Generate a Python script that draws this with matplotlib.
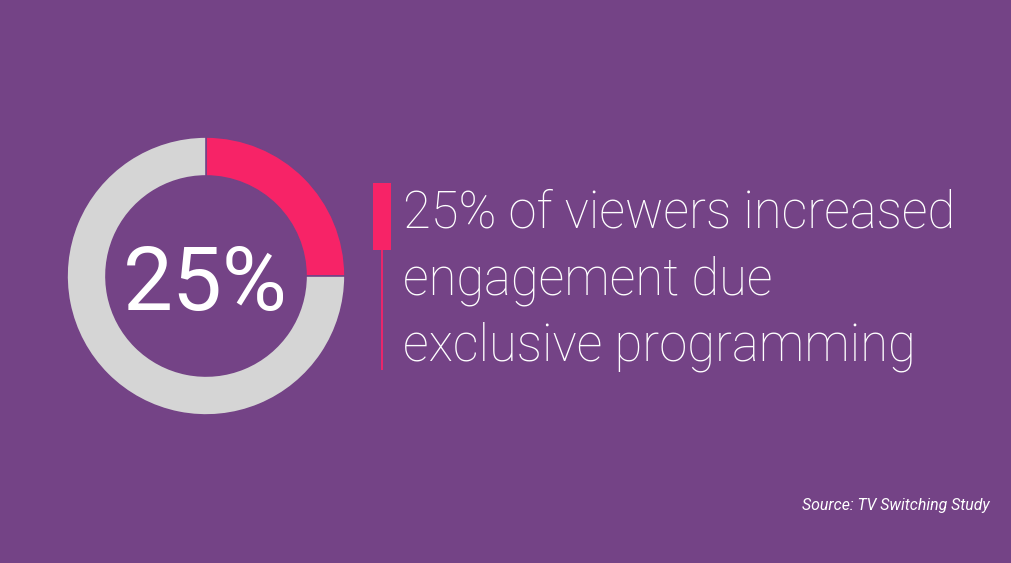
import matplotlib.pyplot as plt
from matplotlib.patches import Rectangle

# donnees
share = [25, 75]
share_colors = ["#F72367", "#D5D5D5"]
big_label = "25%"
headline = ["25% of viewers increased", "engagement due", "exclusive programming"]
source = "Source: TV Switching Study"

bg = "#744386"
W, H = 1012, 563

fig = plt.figure(figsize=(W / 100, H / 100), dpi=100, facecolor=bg)

# fond en pixels
ax = fig.add_axes([0, 0, 1, 1])
ax.set_xlim(0, W)
ax.set_ylim(H, 0)
ax.axis("off")
ax.set_facecolor(bg)

# anneau
cx, cy, r = 206, 276, 139
axd = fig.add_axes([(cx - 140) / W, (H - cy - 140) / H, 280 / W, 280 / H])
axd.pie(share, colors=share_colors, startangle=90, counterclock=False,
        radius=r / 140, wedgeprops=dict(width=39 / 140, edgecolor=bg, linewidth=1.2))
axd.set_xlim(-1, 1)
axd.set_ylim(-1, 1)
axd.set_aspect("equal")
axd.axis("off")

ax.text(cx - 1, 310, big_label, fontsize=64, family="Roboto",
        color="white", ha="center", va="baseline")

# barre rose
ax.add_patch(Rectangle((373, 183), 18, 67, color="#F72367", lw=0))
ax.plot([382, 382], [250, 370], color="#F72367", lw=1.3, solid_capstyle="butt")

for i, ligne in enumerate(headline):
    ax.text(403, 228 + i * 66.5, ligne, fontsize=36.5, family="Roboto", fontweight="light",
            color="white", ha="left", va="baseline")

ax.text(990, 510, source, fontsize=11.4, family="Roboto", style="italic",
        color="white", ha="right", va="baseline")

fig.savefig("out.png", dpi=100, facecolor=bg)
